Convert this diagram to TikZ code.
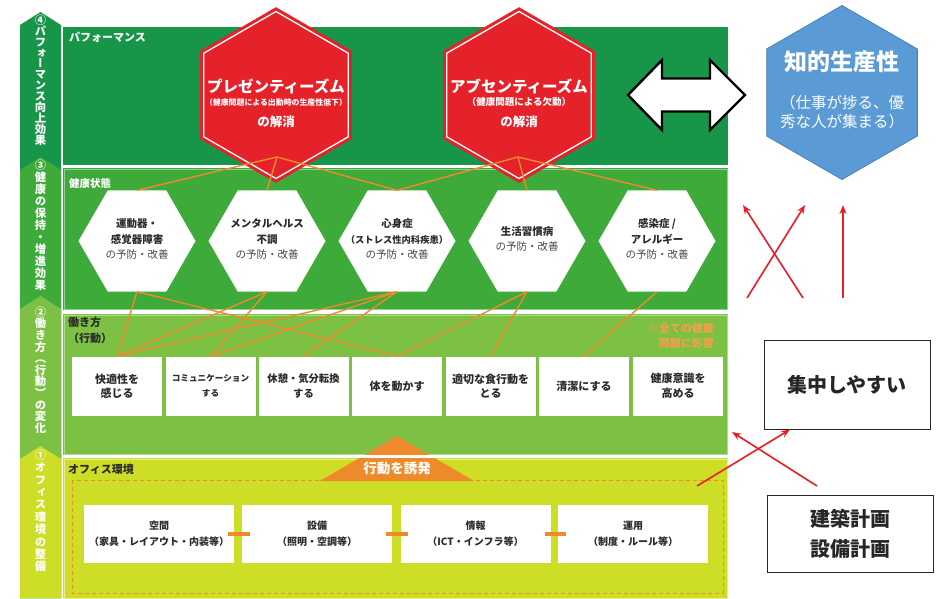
\documentclass[tikz,border=0pt]{standalone}
\usepackage{fontspec}
\newfontfamily\jp{Noto Sans CJK JP}
\newfontfamily\jpv[RawFeature=+vert]{Noto Sans CJK JP}
\usetikzlibrary{shapes.geometric,arrows.meta}
\definecolor{gDark}{HTML}{17964A}
\definecolor{gMid}{HTML}{3DAA3A}
\definecolor{gLight}{HTML}{7CC143}
\definecolor{gYel}{HTML}{CEDE26}
\definecolor{hRed}{HTML}{E52229}
\definecolor{lnOr}{HTML}{EE8A2A}
\definecolor{noteOr}{HTML}{F2A04A}
\definecolor{bBlue}{HTML}{5B9BD5}
\definecolor{bBlueD}{HTML}{4A7FB5}
\definecolor{annRed}{HTML}{EC1C24}
\definecolor{txt}{HTML}{2B2B2B}
\definecolor{txtG}{HTML}{474747}
\newcommand{\fsz}[2]{\fontsize{#1}{#2}\selectfont}
\begin{document}
\begin{tikzpicture}[x=1pt,y=-1pt,font=\jp,
 vtext/.style={anchor=north,align=center,inner sep=0pt,text=white,font=\jpv\bfseries\fsz{11.3}{#1}},
 plabel/.style={anchor=west,inner sep=0pt,align=left,font=\jp\bfseries\fsz{11}{16}},
 redhex/.style={regular polygon,regular polygon sides=6,shape border rotate=30,minimum size=175pt,inner sep=0pt,outer sep=0pt,fill=hRed,draw=hRed},
 redhexin/.style={regular polygon,regular polygon sides=6,shape border rotate=30,minimum size=167pt,inner sep=0pt,draw=white,line width=1.3pt},
 whex/.style={regular polygon,regular polygon sides=6,minimum size=117pt,inner sep=0pt,outer sep=0pt,fill=white},
 htext/.style={align=center,inner sep=0pt,text=txtG,font=\jp\fsz{10.5}{15.5}},
 wbox/.style={rectangle,fill=white,minimum width=90pt,minimum height=59pt,inner sep=0pt,align=center,text=txt,font=\jp\bfseries\fsz{11}{14.5}},
 obox/.style={rectangle,fill=white,minimum width=150pt,minimum height=58pt,inner sep=0pt,align=center,text=txt,font=\jp\bfseries\fsz{10}{16}},
 oline/.style={draw=lnOr,line width=1.4pt},
 gapline/.style={draw=lnOr,line width=4pt},
 annbox/.style={rectangle,draw=black!85,line width=1pt,fill=white,align=center,text=black!85,font=\jp\bfseries\fsz{20}{30}},
 annarrow/.style={draw=annRed,line width=1.6pt,-{Stealth[length=9pt,width=7pt]}},
 whitetxt/.style={text=white,inner sep=0pt,font=\jp\bfseries\fsz{#1}{#1}}
]
\useasboundingbox (0,0) rectangle (940,598);
\fill[white] (0,0) rectangle (940,598);

% ---- left stage bar
\fill[gDark]  (20,25)  -- (40.5,12)  -- (61,25)  -- (61,598) -- (20,598) -- cycle;
\fill[gMid]   (20,170) -- (40.5,157) -- (61,170) -- (61,598) -- (20,598) -- cycle;
\fill[gLight] (20,309) -- (40.5,296) -- (61,309) -- (61,598) -- (20,598) -- cycle;
\fill[gYel]   (20,459) -- (40.5,446) -- (61,459) -- (61,598) -- (20,598) -- cycle;
\node[vtext=10.9] (v4) at (40.5,14.5) {④\\パ\\フ\\ォ\\ー\\マ\\ン\\ス\\向\\上\\効\\果};
\node[vtext=12] (v3) at (40.5,159.5) {③\\健\\康\\の\\保\\持\\・\\増\\進\\効\\果};
\node[vtext=11.6] (v2) at (40.5,306.5) {②\\働\\き\\方\\（\\行\\動\\）\\の\\変\\化};
\node[vtext=12.4] (v1) at (40.5,449.5) {①\\オ\\フ\\ィ\\ス\\環\\境\\の\\整\\備};

% ---- panels
\fill[gDark]  (63,27)  rectangle (728,165);
\fill[gMid]   (63,168) rectangle (728,310);
\fill[gLight] (63,314) rectangle (728,455);
\fill[gYel]   (63,458) rectangle (728,598);
\draw[white!45!gMid,line width=0.8pt] (64,169) rectangle (727,309);
\draw[white!40!gLight,line width=0.8pt] (64,315) rectangle (727,454);
\draw[white!50!gYel,line width=0.8pt] (64,459) rectangle (727,598);

\node[plabel,text=white] (lPerf) at (69,37) {パフォーマンス};
\node[plabel,text=white,font=\jp\bfseries\fsz{10.5}{16}] (lHealth) at (69,183) {健康状態};
\node[plabel,text=txt,anchor=north west] (lWork) at (68,317) {働き方\\（行動）};
\node[plabel,text=txt] (lOffice) at (68,469) {オフィス環境};

% ---- office environment
\draw[lnOr,line width=0.8pt,dash pattern=on 4pt off 3pt] (72,480) rectangle (723,593);
\fill[lnOr] (397,436) -- (474,481) -- (320,481) -- cycle;
\fill[white] (63,455) rectangle (728,458);
\node[whitetxt=13.5] (trig) at (397,468) {行動を誘発};

\node[obox] (o1) at (159,534)   {空間\\（家具・レイアウト・内装等）};
\node[obox] (o2) at (317,534)   {設備\\（照明・空調等）};
\node[obox] (o3) at (475.5,534) {情報\\（ICT・インフラ等）};
\node[obox] (o4) at (633,534)   {運用\\（制度・ルール等）};
\draw[gapline] ([xshift=-6pt]o1.east) -- ([xshift=8pt]o2.west);
\draw[gapline] ([xshift=-6pt]o2.east) -- ([xshift=8pt]o3.west);
\draw[gapline] ([xshift=-6pt]o3.east) -- ([xshift=8pt]o4.west);

% ---- work style boxes
\node[wbox] (b1) at (117,386)   {快適性を\\感じる};
\node[wbox,font=\jp\bfseries\fsz{8.6}{14.5}] (b2) at (210.5,386) {コミュニケーション\\する};
\node[wbox,font=\jp\bfseries\fsz{10.3}{14.5}] (b3) at (303.5,386) {休憩・気分転換\\する};
\node[wbox] (b4) at (397,386)   {体を動かす};
\node[wbox] (b5) at (490.5,386) {適切な食行動を\\とる};
\node[wbox] (b6) at (584,386)   {清潔にする};
\node[wbox] (b7) at (678,386)   {健康意識を\\高める};
\node[anchor=east,align=right,inner sep=0pt,text=noteOr,font=\jp\bfseries\fsz{11}{15}] (note) at (714,336) {※全ての健康\\問題に影響};

% ---- health state hexagons
\node[whex] (h1) at (137,241) {};
\node[whex] (h2) at (267,241) {};
\node[whex] (h3) at (397,241) {};
\node[whex] (h4) at (527,241) {};
\node[whex] (h5) at (657,241) {};
\node[htext] (t1) at (137,239) {\textcolor{txt}{\bfseries 運動器・}\\\textcolor{txt}{\bfseries 感覚器障害}\\の予防・改善};
\node[htext] (t2) at (267,239) {\textcolor{txt}{\bfseries メンタルヘルス}\\\textcolor{txt}{\bfseries 不調}\\の予防・改善};
\node[htext] (t3) at (397,239) {\textcolor{txt}{\bfseries 心身症}\\{\fsz{9.3}{15.5}\textcolor{txt}{\bfseries （ストレス性内科疾患）}}\\の予防・改善};
\node[htext] (t4) at (527,239) {\textcolor{txt}{\bfseries 生活習慣病}\\の予防・改善};
\node[htext] (t5) at (657,239) {\textcolor{txt}{\bfseries 感染症 /}\\\textcolor{txt}{\bfseries アレルギー}\\の予防・改善};

% ---- hex -> behaviour connectors
\draw[oline] (h1.south) -- (b1.north);
\draw[oline] (h1.south) -- (b4.north);
\draw[oline] (h2.south) -- (b1.north);
\draw[oline] (h2.south) -- (b2.north);
\draw[oline] (h3.south) -- (b1.north);
\draw[oline] (h3.south) -- (b2.north);
\draw[oline] (h3.south) -- (b3.north);
\draw[oline] (h4.south) -- (b4.north);
\draw[oline] (h4.south) -- (b5.north);
\draw[oline] (h5.south) -- (b6.north);

% ---- performance hexagons
\node[redhex] (rL) at (276,95) {};
\node[redhexin] (rLi) at (rL) {};
\node[redhex] (rR) at (519,95) {};
\node[redhexin] (rRi) at (rR) {};
\node[whitetxt=15.5] (rLt1) at (276,86) {プレゼンティーズム};
\node[whitetxt=7.9] (rLt2) at (276,102) {（健康問題による出勤時の生産性低下）};
\node[whitetxt=12.5] (rLt3) at (276,122) {の解消};
\node[whitetxt=15.5] (rRt1) at (519,86) {アブセンティーズム};
\node[whitetxt=9.5] (rRt2) at (519,102) {（健康問題による欠勤）};
\node[whitetxt=12.5] (rRt3) at (519,122) {の解消};
\coordinate (pL) at (277,157);
\coordinate (pR) at (518,157);
\draw[oline] (pL) -- (h1.north);
\draw[oline] (pL) -- (h2.north);
\draw[oline] (pL) -- (h3.north);
\draw[oline] (pR) -- (h3.north);
\draw[oline] (pR) -- (h4.north);
\draw[oline] (pR) -- (h5.north);

% ---- double arrow and intellectual productivity
\draw[black,fill=white,line width=2.4pt,line join=miter]
  (628,95) -- (662,60) -- (662,78.5) -- (710,78.5) -- (710,60) -- (745,95)
  -- (710,130) -- (710,111.5) -- (662,111.5) -- (662,130) -- cycle;
\node[regular polygon,regular polygon sides=6,shape border rotate=30,minimum size=174pt,inner sep=0pt,fill=bBlue,draw=bBlueD,line width=0.8pt] (bh) at (842,92.5) {};
\node[whitetxt=23] (bht1) at (842,62) {知的生産性};
\node[text=white,inner sep=0pt,font=\jp\fsz{15.5}{15.5}] (bht2) at (842,103) {（仕事が捗る、優};
\node[text=white,inner sep=0pt,font=\jp\fsz{15.5}{15.5}] (bht3) at (842,122) {秀な人が集まる）};

% ---- annotation boxes and arrows
\node[annbox,minimum width=166pt,minimum height=89pt] (kc) at (847,384.5) {集中しやすい};
\node[annbox,minimum width=166pt,minimum height=77pt] (kk) at (850,533.5) {建築計画\\設備計画};
\coordinate (x1s) at (803,298); \coordinate (x1e) at (743,205);
\coordinate (x2s) at (747,298); \coordinate (x2e) at (805,205);
\coordinate (v1s) at (843,298); \coordinate (v1e) at (843,205);
\coordinate (a1s) at (817,486); \coordinate (a1e) at (732,432);
\coordinate (a2s) at (697,486);
\draw[annarrow] (x1s) -- (x1e);
\draw[annarrow] (x2s) -- (x2e);
\draw[annarrow] (v1s) -- (v1e);
\draw[annarrow] (a1s) -- (a1e);
\draw[annarrow] (a2s) -- ([xshift=-57pt]kc.south);
\end{tikzpicture}
\end{document}
